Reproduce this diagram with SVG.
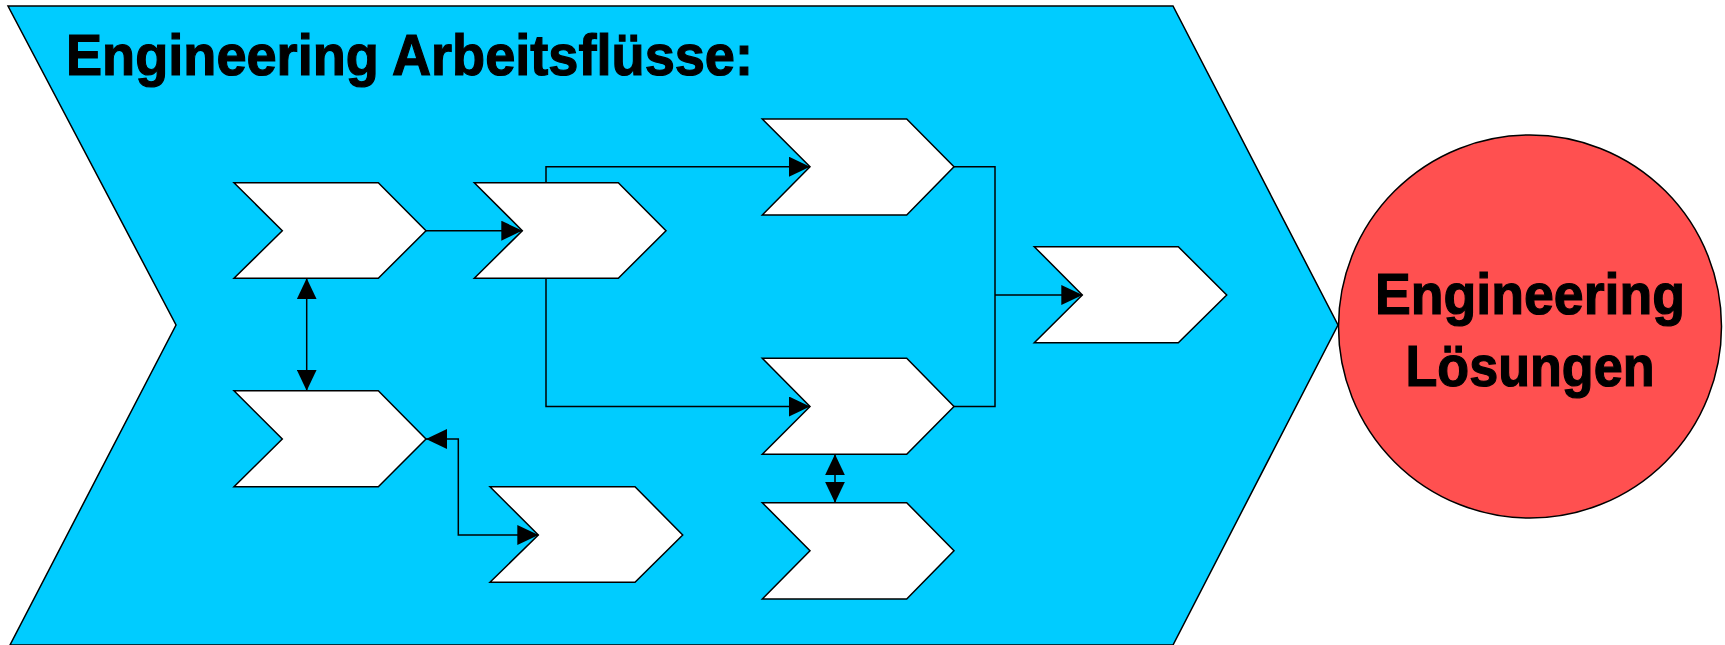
<svg xmlns="http://www.w3.org/2000/svg" width="1725" height="645" viewBox="0 0 1725 645">
<style>
.step{fill:#FFFFFF;stroke:#000000;stroke-width:1.5;stroke-linejoin:miter}
.conn{fill:none;stroke:#000000;stroke-width:1.5}
.big{font-family:"Liberation Sans",Arial,sans-serif;font-weight:bold;font-size:58px;fill:#000000;stroke:#000000;stroke-width:1.2}
</style>
<defs>
<marker id="arr" viewBox="0 0 21 20" refX="21" refY="10" markerWidth="21" markerHeight="20" markerUnits="userSpaceOnUse" orient="auto-start-reverse">
<path d="M0,0 L21,10 L0,20 Z" fill="#000000"/>
</marker>
</defs>
<rect width="1725" height="645" fill="#FFFFFF"/>
<g id="workflows">
<polygon points="8,6 1173,6 1338,325 1173,645 10,645 176,325" fill="#00CCFF" stroke="#000000" stroke-width="1.5"/>
<text class="big" x="66" y="75" textLength="687" lengthAdjust="spacingAndGlyphs">Engineering Arbeitsflüsse:</text>
</g>
<g id="solutions">
<circle cx="1530" cy="326.5" r="191.5" fill="#FF5050" stroke="#000000" stroke-width="1.5"/>
<text class="big" x="1530" y="314" text-anchor="middle" textLength="310" lengthAdjust="spacingAndGlyphs">Engineering</text>
<text class="big" x="1530" y="386" text-anchor="middle" textLength="249" lengthAdjust="spacingAndGlyphs">Lösungen</text>
</g>
<g id="step-a"><polygon class="step" points="234,182.7 378.3,182.7 426,230.7 378.3,278.3 234,278.3 282.3,230.7"/></g>
<g id="step-b"><polygon class="step" points="474.3,182.7 618.3,182.7 666,230.7 618.3,278.3 474.3,278.3 522.3,230.7"/></g>
<g id="step-c"><polygon class="step" points="234,390.7 378.3,390.7 426,439 378.3,486.7 234,486.7 282.3,439"/></g>
<g id="step-d"><polygon class="step" points="762.3,119 906.7,119 954,166.7 906.7,215 762.3,215 810,166.7"/></g>
<g id="step-e"><polygon class="step" points="762.3,358.3 906.7,358.3 954,406.5 906.7,454.3 762.3,454.3 810,406.5"/></g>
<g id="step-f"><polygon class="step" points="490,486.7 635,486.7 682.7,535 635,582.3 490,582.3 538.3,535"/></g>
<g id="step-g"><polygon class="step" points="1034.3,246.7 1178.3,246.7 1226.7,295 1178.3,342.7 1034.3,342.7 1082.3,295"/></g>
<g id="step-h"><polygon class="step" points="762.3,502.7 906.7,502.7 954,550.7 906.7,599 762.3,599 810,550.7"/></g>
<g id="connectors">
<path class="conn" d="M426,230.7 H522.3" marker-end="url(#arr)"/>
<path class="conn" d="M306.7,278.3 V390.7" marker-start="url(#arr)" marker-end="url(#arr)"/>
<path class="conn" d="M546,182.7 V166.7 H810" marker-end="url(#arr)"/>
<path class="conn" d="M546,278.3 V406.5 H810" marker-end="url(#arr)"/>
<path class="conn" d="M426,439 H458.3 V535 H538.3" marker-start="url(#arr)" marker-end="url(#arr)"/>
<path class="conn" d="M954,166.7 H995 V406.5 H954"/>
<path class="conn" d="M995,295 H1082.3" marker-end="url(#arr)"/>
<path class="conn" d="M835,454.3 V502.7" marker-start="url(#arr)" marker-end="url(#arr)"/>
</g>
</svg>
